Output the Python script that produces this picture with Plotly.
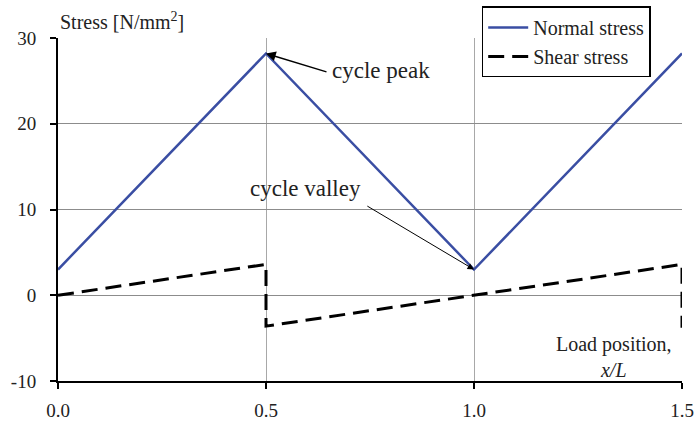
import plotly.graph_objects as go

# Data
x_normal = [0.0, 0.5, 1.0, 1.5]
normal_stress = [3.0, 28.2, 3.0, 28.2]
x_shear = [0.0, 0.5, 0.5, 1.0, 1.5, 1.5]
shear_stress = [0.0, 3.6, -3.6, 0.0, 3.6, -3.8]
x_ticks = [0.0, 0.5, 1.0, 1.5]
x_tick_labels = ["0.0", "0.5", "1.0", "1.5"]
y_ticks = [-10, 0, 10, 20, 30]
y_tick_labels = ["-10", "0", "10", "20", "30"]

FONT = "Liberation Serif, Times New Roman, serif"
TXT = "#222"

fig = go.Figure()
fig.add_trace(go.Scatter(x=x_normal, y=normal_stress, mode="lines", name="Normal stress",
                         line=dict(color="#3a4ea3", width=2.5)))
fig.add_trace(go.Scatter(x=x_shear, y=shear_stress, mode="lines", name="Shear stress",
                         line=dict(color="black", width=3, dash="16px,8px")))

fig.update_layout(
    width=694, height=423,
    margin=dict(l=58, r=12, t=38, b=42, autoexpand=False),
    plot_bgcolor="white", paper_bgcolor="white",
    font=dict(family=FONT, size=17, color=TXT),
    showlegend=True,
    legend=dict(x=0.679, y=1.092, xanchor="left", yanchor="top",
                bordercolor="black", borderwidth=1.5, bgcolor="white",
                font=dict(family=FONT, size=20, color=TXT),
                tracegroupgap=0, itemwidth=40),
    xaxis=dict(range=[0, 1.5], tickvals=x_ticks, ticktext=x_tick_labels,
               showgrid=True, gridcolor="#a8a8a8", gridwidth=1,
               showline=True, linecolor="black", linewidth=2,
               ticks="outside", ticklen=6, tickcolor="black", tickwidth=1.5,
               ticklabelstandoff=5, automargin=False,
               zeroline=False, tickfont=dict(family=FONT, size=19, color=TXT)),
    yaxis=dict(range=[-10, 30], tickvals=y_ticks, ticktext=y_tick_labels,
               showgrid=True, gridcolor="#8c8c8c", gridwidth=1,
               showline=True, linecolor="black", linewidth=2,
               ticks="outside", ticklen=6, tickcolor="black", tickwidth=1.5,
               ticklabelstandoff=10, automargin=False,
               zeroline=False, tickfont=dict(family=FONT, size=19, color=TXT)),
)

# Axis titles
fig.add_annotation(x=0, xref="paper", y=1.0, yref="paper", yshift=3,
                   text="Stress [N/mm<sup>2</sup>]", showarrow=False,
                   xanchor="left", yanchor="bottom", xshift=0,
                   font=dict(family=FONT, size=20, color=TXT))
fig.add_annotation(x=1.5, xref="x", y=-7.2, yref="y", xshift=-8,
                   text="Load position,<br><i>x/L</i>", showarrow=False,
                   xanchor="right", yanchor="middle", align="center",
                   font=dict(family=FONT, size=20, color=TXT))

# Arrows
fig.add_annotation(x=0.5, y=28.2, ax=0.649, ay=26.0, xref="x", yref="y", axref="x", ayref="y",
                   text="", showarrow=True, arrowhead=2, arrowsize=1.3, arrowwidth=1.5,
                   arrowcolor="black")
fig.add_annotation(x=1.0, y=3.0, ax=0.74, ay=10.5, xref="x", yref="y", axref="x", ayref="y",
                   text="", showarrow=True, arrowhead=2, arrowsize=1.3, arrowwidth=1,
                   arrowcolor="black")
fig.add_annotation(x=0.655, y=26.2, xref="x", yref="y", text="cycle peak", showarrow=False,
                   xanchor="left", yanchor="middle",
                   font=dict(family=FONT, size=23, color=TXT))
fig.add_annotation(x=0.596, y=12.4, xref="x", yref="y", text="cycle valley", showarrow=False,
                   xanchor="center", yanchor="middle",
                   font=dict(family=FONT, size=23, color=TXT))

fig.write_html("out.html", config={"displayModeBar": False},
               post_script="document.body.style.margin='0';document.body.style.overflow='hidden';")
